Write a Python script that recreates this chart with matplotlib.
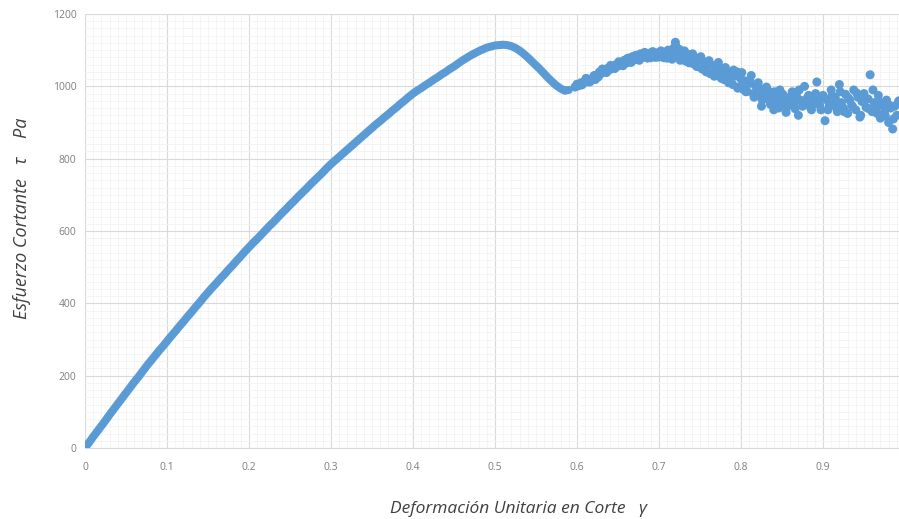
import matplotlib.pyplot as plt
from matplotlib.ticker import MultipleLocator

# smooth part of the curve
gamma_smooth = [0.000, 0.005, 0.010, 0.015, 0.020, 0.025, 0.030, 0.035, 0.040, 0.045,
                0.050, 0.055, 0.060, 0.065, 0.070, 0.075, 0.080, 0.085, 0.090, 0.095,
                0.100, 0.105, 0.110, 0.115, 0.120, 0.125, 0.130, 0.135, 0.140, 0.145,
                0.150, 0.155, 0.160, 0.165, 0.170, 0.175, 0.180, 0.185, 0.190, 0.195,
                0.200, 0.205, 0.210, 0.215, 0.220, 0.225, 0.230, 0.235, 0.240, 0.245,
                0.250, 0.255, 0.260, 0.265, 0.270, 0.275, 0.280, 0.285, 0.290, 0.295,
                0.300, 0.305, 0.310, 0.315, 0.320, 0.325, 0.330, 0.335, 0.340, 0.345,
                0.350, 0.355, 0.360, 0.365, 0.370, 0.375, 0.380, 0.385, 0.390, 0.395,
                0.400, 0.405, 0.410, 0.415, 0.420, 0.425, 0.430, 0.435, 0.440, 0.445,
                0.450, 0.455, 0.460, 0.465, 0.470, 0.475, 0.480, 0.485, 0.490, 0.495,
                0.500, 0.505, 0.510, 0.515, 0.520, 0.525, 0.530, 0.535, 0.540, 0.545,
                0.550, 0.555, 0.560, 0.565, 0.570, 0.575, 0.580, 0.585, 0.590]
tau_smooth = [0, 15, 31, 46, 61, 76, 92, 107, 122, 137,
              152, 167, 182, 196, 211, 226, 240, 254, 268, 281,
              295, 309, 322, 336, 349, 363, 376, 390, 403, 417,
              430, 443, 455, 468, 480, 493, 505, 518, 530, 543,
              555, 567, 578, 590, 602, 614, 625, 637, 649, 660,
              672, 683, 695, 706, 717, 729, 740, 751, 762, 774,
              785, 795, 805, 815, 825, 835, 845, 855, 865, 875,
              885, 895, 904, 914, 923, 933, 942, 952, 961, 971,
              980, 988, 995, 1003, 1010, 1018, 1025, 1033, 1040, 1048,
              1055, 1063, 1071, 1078, 1085, 1091, 1097, 1102, 1107, 1110,
              1113, 1114, 1115, 1114, 1111, 1106, 1099, 1090, 1080, 1069,
              1058, 1047, 1035, 1023, 1012, 1002, 994, 988, 990]

# noisy part after the drop
gamma_noisy = [0.5975, 0.6000, 0.6025, 0.6050, 0.6075, 0.6100, 0.6125, 0.6150, 0.6175, 0.6200,
               0.6225, 0.6250, 0.6275, 0.6300, 0.6325, 0.6350, 0.6375, 0.6400, 0.6425, 0.6450,
               0.6475, 0.6500, 0.6525, 0.6550, 0.6575, 0.6600, 0.6625, 0.6650, 0.6675, 0.6700,
               0.6725, 0.6750, 0.6775, 0.6800, 0.6825, 0.6850, 0.6875, 0.6900, 0.6925, 0.6950,
               0.6975, 0.7000, 0.7025, 0.7050, 0.7075, 0.7100, 0.7125, 0.7150, 0.7175, 0.7200,
               0.7225, 0.7250, 0.7275, 0.7300, 0.7325, 0.7350, 0.7375, 0.7400, 0.7425, 0.7450,
               0.7475, 0.7500, 0.7525, 0.7550, 0.7575, 0.7600, 0.7625, 0.7650, 0.7675, 0.7700,
               0.7725, 0.7750, 0.7775, 0.7800, 0.7825, 0.7850, 0.7875, 0.7900, 0.7925, 0.7950,
               0.7975, 0.8000, 0.8025, 0.8050, 0.8075, 0.8100, 0.8125, 0.8150, 0.8175, 0.8200,
               0.8225, 0.8250, 0.8275, 0.8300, 0.8325, 0.8350, 0.8375, 0.8400, 0.8425, 0.8450,
               0.8475, 0.8500, 0.8525, 0.8550, 0.8575, 0.8600, 0.8625, 0.8650, 0.8675, 0.8700,
               0.8725, 0.8750, 0.8775, 0.8800, 0.8825, 0.8850, 0.8875, 0.8900, 0.8925, 0.8950,
               0.8975, 0.9000, 0.9025, 0.9050, 0.9075, 0.9100, 0.9125, 0.9150, 0.9175, 0.9200,
               0.9225, 0.9250, 0.9275, 0.9300, 0.9325, 0.9350, 0.9375, 0.9400, 0.9425, 0.9450,
               0.9475, 0.9500, 0.9525, 0.9550, 0.9575, 0.9600, 0.9625, 0.9650, 0.9675, 0.9700,
               0.9725, 0.9750, 0.9775, 0.9800, 0.9825, 0.9850, 0.9875, 0.9900, 0.9925]
tau_noisy = [998, 1006, 1003, 1010, 1008, 1015, 1020, 1012, 1018, 1025,
             1019, 1032, 1040, 1036, 1045, 1041, 1050, 1046, 1055, 1052,
             1060, 1056, 1066, 1061, 1072, 1064, 1078, 1070, 1082, 1073,
             1086, 1078, 1090, 1080, 1094, 1083, 1091, 1079, 1096, 1085,
             1092, 1081, 1098, 1086, 1093, 1078, 1097, 1084, 1105, 1122,
             1088, 1102, 1076, 1093, 1070, 1089, 1065, 1084, 1062, 1078,
             1055, 1074, 1048, 1068, 1040, 1063, 1035, 1058, 1028, 1049,
             1066, 1030, 1045, 1018, 1040, 1010, 1034, 1005, 1028, 1040,
             998, 1020, 992, 1015, 986, 1008, 1030, 980, 1002, 975,
             995, 945, 985, 968, 990, 960, 982, 935, 975, 958,
             990, 952, 972, 928, 968, 948, 985, 955, 975, 920,
             962, 945, 1000, 958, 975, 940, 965, 952, 1012, 960,
             935, 975, 905, 962, 945, 990, 950, 968, 930, 1005,
             955, 940, 978, 925, 962, 948, 990, 935, 970, 915,
             958, 980, 942, 965, 1032, 930, 955, 940, 975, 912,
             948, 930, 962, 900, 940, 882, 945, 920, 960]

# second run of scattered readings in the same range
gamma_noisy2 = [0.601, 0.606, 0.611, 0.616, 0.621, 0.626, 0.631, 0.636, 0.641, 0.646,
                0.651, 0.656, 0.661, 0.666, 0.671, 0.676, 0.681, 0.686, 0.691, 0.696,
                0.701, 0.706, 0.711, 0.716, 0.721, 0.726, 0.731, 0.736, 0.741, 0.746,
                0.751, 0.756, 0.761, 0.766, 0.771, 0.776, 0.781, 0.786, 0.791, 0.796,
                0.801, 0.806, 0.811, 0.816, 0.821, 0.826, 0.831, 0.836, 0.841, 0.846,
                0.851, 0.856, 0.861, 0.866, 0.871, 0.876, 0.881, 0.886, 0.891, 0.896,
                0.901, 0.906, 0.911, 0.916, 0.921, 0.926, 0.931, 0.936, 0.941, 0.946,
                0.951, 0.956, 0.961, 0.966, 0.971, 0.976, 0.981, 0.986, 0.991]
tau_noisy2 = [1001, 1004, 1022, 1013, 1030, 1026, 1048, 1038, 1058, 1049,
              1068, 1057, 1076, 1066, 1085, 1072, 1090, 1078, 1094, 1080,
              1095, 1079, 1100, 1075, 1110, 1072, 1098, 1066, 1090, 1055,
              1082, 1045, 1071, 1036, 1060, 1022, 1052, 1012, 1045, 995,
              1038, 985, 1015, 970, 1010, 962, 998, 950, 985, 940,
              978, 945, 972, 938, 990, 948, 968, 935, 980, 948,
              968, 935, 975, 942, 985, 930, 968, 944, 982, 920,
              962, 938, 990, 925, 955, 918, 948, 910, 952]

plt.rcParams['font.family'] = ['Open Sans', 'DejaVu Sans']

fig = plt.figure(figsize=(8.99, 5.19), dpi=100)
ax = fig.add_axes([0.0945, 0.1368, 0.9055, 0.8362])

color = '#5B9BD5'
ax.plot(gamma_smooth, tau_smooth, color=color, lw=5.8, solid_capstyle='round',
        solid_joinstyle='round', zorder=3)
ax.scatter(gamma_noisy, tau_noisy, s=42, color=color, edgecolors='none', zorder=3)
ax.scatter(gamma_noisy2, tau_noisy2, s=42, color=color, edgecolors='none', zorder=3)

ax.set_xlim(0, 0.9927)
ax.set_ylim(0, 1200)
ax.xaxis.set_minor_locator(MultipleLocator(0.01))
ax.yaxis.set_major_locator(MultipleLocator(200))
ax.yaxis.set_minor_locator(MultipleLocator(20))
ax.set_xticks([0, 0.1, 0.2, 0.3, 0.4, 0.5, 0.6, 0.7, 0.8, 0.9])
ax.set_xticklabels(['0', '0.1', '0.2', '0.3', '0.4', '0.5', '0.6', '0.7', '0.8', '0.9'])

ax.grid(which='major', color='#d9d9d9', linewidth=0.8, zorder=0)
ax.grid(which='minor', color='#f3f3f3', linewidth=0.6, zorder=0)
ax.set_axisbelow(True)

for side in ['top', 'right', 'left']:
    ax.spines[side].set_visible(False)
ax.spines['bottom'].set_color('#d9d9d9')

ax.tick_params(which='both', length=0)
ax.tick_params(axis='x', pad=10, labelsize=7.5, labelcolor='#7f7f7f')
ax.tick_params(axis='y', pad=6, labelsize=7.5, labelcolor='#7f7f7f')

ax.set_xlabel('Deformación Unitaria en Corte   γ', fontsize=12.5, style='italic',
              color='#404040')
ax.set_ylabel('Esfuerzo Cortante   τ    Pa', fontsize=13, style='italic',
              color='#404040')
ax.xaxis.set_label_coords(0.533, -0.123)
ax.yaxis.set_label_coords(-0.066, 0.53)

plt.savefig('out.png', dpi=100)
